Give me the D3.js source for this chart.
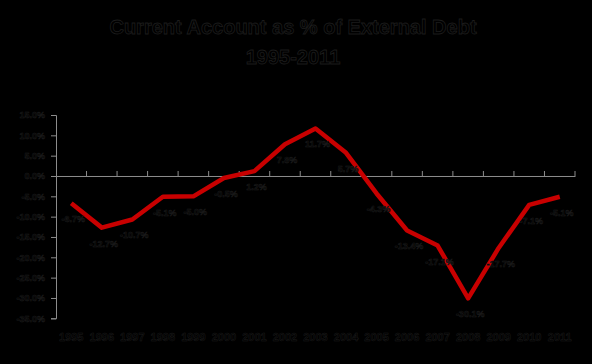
<!DOCTYPE html>
<html><head><meta charset="utf-8">
<script src="https://cdn.jsdelivr.net/npm/d3@7"></script>
<style>html,body{margin:0;padding:0;background:#000;}svg{display:block;}</style>
</head><body><div id="chart"></div>
<script>
const titleLines = ["Current Account as % of External Debt", "1995-2011"];
const years = ["1995","1996","1997","1998","1999","2000","2001","2002","2003","2004","2005","2006","2007","2008","2009","2010","2011"];
const values = [-6.7,-12.7,-10.7,-5.1,-5.0,-0.5,1.2,7.8,11.7,5.7,-4.3,-13.4,-17.1,-30.1,-17.7,-7.1,-5.1];
const labels = ["-6.7%","-12.7%","-10.7%","-5.1%","-5.0%","-0.5%","1.2%","7.8%","11.7%","5.7%","-4.3%","-13.4%","-17.1%","-30.1%","-17.7%","-7.1%","-5.1%"];
const yTicks = [15,10,5,0,-5,-10,-15,-20,-25,-30,-35];

const W = 592, H = 364;
const svg = d3.select("#chart").append("svg").attr("width", W).attr("height", H);
svg.append("rect").attr("width", W).attr("height", H).attr("fill", "#000");

const txtFill = "#000", txtStroke = "#1c1c1c";

const x = d3.scaleBand().domain(years).range([56, 575]);
const y = d3.scaleLinear().domain([-35, 15]).range([318.3, 115]);

// title
svg.append("g").selectAll("text").data(titleLines).join("text")
  .attr("x", 293).attr("y", (d, i) => 34 + i * 30)
  .attr("text-anchor", "middle")
  .attr("font-family", "Liberation Sans, Arial, sans-serif")
  .attr("font-weight", "bold").attr("font-size", 20)
  .attr("fill", txtFill).attr("stroke", txtStroke).attr("stroke-width", 0.8)
  .text(d => d);

// y axis
const yAxis = svg.append("g").attr("transform", "translate(56,0)")
  .call(d3.axisLeft(y).tickValues(yTicks).tickSize(5).tickPadding(6).tickFormat(d => d.toFixed(1) + "%"));
yAxis.select(".domain").attr("stroke", "#8c8c8c");
yAxis.selectAll(".tick line").attr("stroke", "#8c8c8c");
yAxis.selectAll(".tick text")
  .attr("font-family", "Liberation Sans, Arial, sans-serif")
  .attr("font-weight", "bold").attr("font-size", 9)
  .attr("fill", txtFill).attr("stroke", txtStroke).attr("stroke-width", 0.5);

// zero-line category axis
const xAxis = svg.append("g").attr("transform", `translate(0,${y(0)})`)
  .call(d3.axisTop(x).tickSize(0).tickFormat(""));
xAxis.select(".domain").attr("stroke", "#8c8c8c");
xAxis.selectAll(".tick").remove();
const bounds = d3.range(years.length + 1).map(i => x.range()[0] + i * x.step());
svg.append("g").selectAll("line").data(bounds.slice(1)).join("line")
  .attr("x1", d => d).attr("x2", d => d)
  .attr("y1", y(0) - 5).attr("y2", y(0))
  .attr("stroke", "#8c8c8c");

// year labels at bottom
svg.append("g").selectAll("text").data(years).join("text")
  .attr("x", d => x(d) + x.bandwidth() / 2).attr("y", 341)
  .attr("text-anchor", "middle")
  .attr("font-family", "Liberation Sans, Arial, sans-serif")
  .attr("font-weight", "bold").attr("font-size", 11)
  .attr("fill", txtFill).attr("stroke", txtStroke).attr("stroke-width", 0.5)
  .text(d => d);

// line
const pts = years.map((yr, i) => [x(yr) + x.bandwidth() / 2, y(values[i])]);
svg.append("path").datum(pts)
  .attr("d", d3.line())
  .attr("fill", "none").attr("stroke", "#c80000").attr("stroke-width", 4.5)
  .attr("stroke-linejoin", "round");

// data labels
svg.append("g").selectAll("text").data(labels).join("text")
  .attr("x", (d, i) => pts[i][0] + 2).attr("y", (d, i) => pts[i][1] + 19)
  .attr("text-anchor", "middle")
  .attr("font-family", "Liberation Sans, Arial, sans-serif")
  .attr("font-weight", "bold").attr("font-size", 9)
  .attr("fill", txtFill).attr("stroke", txtStroke).attr("stroke-width", 0.5)
  .text(d => d);
</script>
</body></html>
